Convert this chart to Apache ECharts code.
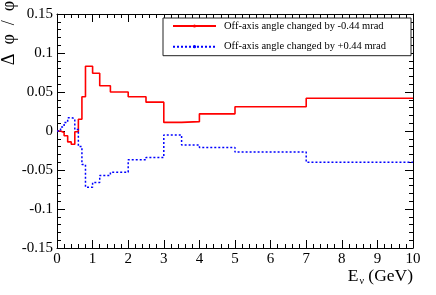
<!DOCTYPE html>
<html>
<head>
<meta charset="utf-8">
<script src="https://cdn.jsdelivr.net/npm/echarts@6/dist/echarts.min.js"></script>
<style>html,body{margin:0;padding:0;background:#fff}#c{width:436px;height:295px}</style>
</head>
<body>
<div id="c"></div>
<script>
// Bin edges (GeV)
const edges = [0, 0.1, 0.2, 0.3, 0.4, 0.5, 0.6, 0.7, 0.8, 1.0, 1.2, 1.5, 2.0, 2.5, 3.0, 3.5, 4.0, 5.0, 7.0, 10.0];
// Delta phi / phi for -0.44 mrad
const redValues = [0, -0.002, -0.006, -0.014, -0.017, -0.001, 0.015, 0.044, 0.083, 0.074, 0.058, 0.050, 0.044, 0.037, 0.011, 0.012, 0.022, 0.031, 0.042];
// Delta phi / phi for +0.44 mrad
const blueValues = [0, 0.005, 0.011, 0.017, 0.016, 0.002, -0.020, -0.043, -0.072, -0.066, -0.057, -0.053, -0.037, -0.034, -0.005, -0.018, -0.021, -0.027, -0.040];
const seriesNames = ['Off-axis angle changed by -0.44 mrad', 'Off-axis angle changed by +0.44 mrad'];
const xTicks = [0,1,2,3,4,5,6,7,8,9,10];
const yTickLabels = {'0.15':'0.15','0.1':'0.1','0.05':'0.05','0':'0','-0.05':'-0.05','-0.1':'-0.1','-0.15':'-0.15'};

function histPoints(vals) {
  const pts = vals.map((v, i) => [edges[i], v]);
  pts.push([edges[edges.length - 1], vals[vals.length - 1]]);
  return pts;
}

const FONT = 'Liberation Serif';
const chart = echarts.init(document.getElementById('c'));
const baseAxis = {
  axisLine: {show: true, onZero: false, lineStyle: {color: '#000', width: 1}},
  axisTick: {show: true, inside: true, length: 8, lineStyle: {color: '#000'}},
  minorTick: {show: true, splitNumber: 5, length: 4, lineStyle: {color: '#000'}},
  splitLine: {show: false},
  minorSplitLine: {show: false}
};
chart.setOption({
  animation: false,
  grid: {left: 57, right: 23, top: 14, bottom: 47, outerBoundsMode: 'none', show: false},
  xAxis: [
    Object.assign({}, baseAxis, {type: 'value', position: 'bottom', min: 0, max: 10, interval: 1,
      axisLabel: {show: true, color: '#000', fontFamily: FONT, fontSize: 15, margin: 4,
        showMinLabel: true, showMaxLabel: true,
        formatter: v => String(xTicks[Math.round(v)])}}),
    Object.assign({}, baseAxis, {type: 'value', position: 'top', min: 0, max: 10, interval: 1,
      axisLabel: {show: false}})
  ],
  yAxis: [
    Object.assign({}, baseAxis, {type: 'value', position: 'left', min: -0.15, max: 0.15, interval: 0.05,
      axisLabel: {show: true, color: '#000', fontFamily: FONT, fontSize: 15, margin: 4,
        showMinLabel: true, showMaxLabel: true,
        formatter: v => yTickLabels[String(+v.toFixed(2))]}}),
    Object.assign({}, baseAxis, {type: 'value', position: 'right', min: -0.15, max: 0.15, interval: 0.05,
      axisLabel: {show: false}})
  ],
  legend: {
    orient: 'vertical', left: 163, top: 18,
    data: seriesNames,
    itemWidth: 43, itemHeight: 4, itemGap: 8.7,
    padding: [2, 25, 3, 9],
    borderColor: '#222', borderWidth: 1,
    backgroundColor: '#fff',
    textStyle: {fontFamily: FONT, fontSize: 10.5, lineHeight: 12, color: '#000', padding: [0, 0, 0, 3]},
    selectedMode: false
  },
  series: [
    {name: seriesNames[0], type: 'line', step: 'end', data: histPoints(redValues),
      symbol: 'circle', symbolSize: 3, showSymbol: false,
      itemStyle: {color: '#ff0000'},
      lineStyle: {color: '#ff0000', width: 1.6}},
    {name: seriesNames[1], type: 'line', step: 'end', data: histPoints(blueValues),
      symbol: 'circle', symbolSize: 3, showSymbol: false,
      itemStyle: {color: '#0000ff'},
      lineStyle: {color: '#0000ff', width: 1.5, type: [2, 2]}}
  ],
  graphic: [
    {type: 'text', x: 9, y: 33, rotation: Math.PI / 2,
      style: {text: 'Δ  φ  /  φ', fontFamily: FONT, fontSize: 18, fill: '#000', align: 'center', verticalAlign: 'middle'}},
    {type: 'text', x: 413, y: 286,
      style: {text: '{a|E}{s|ν}{a| (GeV)}', align: 'right', verticalAlign: 'bottom', fill: '#000',
        rich: {a: {fontFamily: FONT, fontSize: 17.5, fill: '#000'},
               s: {fontFamily: FONT, fontSize: 10, fill: '#000', verticalAlign: 'bottom', padding: [9, 0, 0, 1]}}}}
  ]
});
</script>
</body>
</html>
